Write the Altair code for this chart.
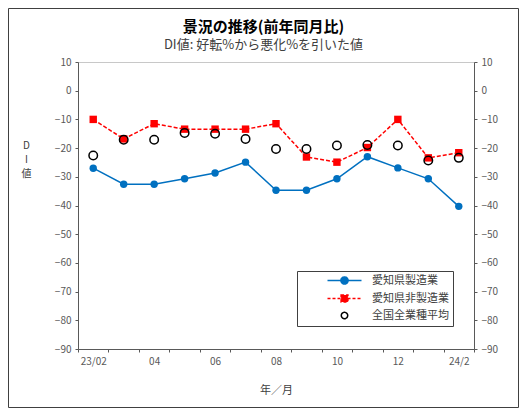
import altair as alt
import pandas as pd

# ---- data ----
months = ["23/02", "23/03", "23/04", "23/05", "23/06", "23/07", "23/08",
          "23/09", "23/10", "23/11", "23/12", "24/01", "24/02"]
tick_labels = {"23/02": "23/02", "23/04": "04", "23/06": "06", "23/08": "08",
               "23/10": "10", "23/12": "12", "24/02": "24/2"}
series_names = ["愛知県製造業", "愛知県非製造業", "全国全業種平均"]
mfg = [-27, -32.6, -32.6, -30.7, -28.7, -24.9, -34.7, -34.7, -30.7, -23, -26.9, -30.7, -40.3]
nonmfg = [-10, -16.8, -11.5, -13.4, -13.4, -13.4, -11.5, -23.1, -24.9, -19.8, -10, -23.4, -21.6]
national = [-22.6, -17.1, -17.1, -14.7, -15, -16.8, -20.3, -20.3, -19.1, -18.9, -19.1, -24.3, -23.4]
y_ticks = list(range(-90, 11, 10))

rows = []
for name, vals in zip(series_names, [mfg, nonmfg, national]):
    for m, v in zip(months, vals):
        rows.append({"month": m, "series": name, "value": v})
df = pd.DataFrame(rows)

FONT = "Noto Sans CJK JP"
BLUE = "#0070C0"
RED = "#FF0000"
W, H = 396, 287
PAD = {"left": 70, "top": 54, "right": 45, "bottom": 59}

label_expr = " : ".join(
    [f"datum.value == '{k}' ? '{v}'" for k, v in tick_labels.items()]) + " : ''"

x_enc = alt.X("month:N", sort=months,
              scale=alt.Scale(domain=months, paddingInner=0, paddingOuter=0),
              axis=alt.Axis(title="年／月", labelExpr=label_expr, labelAngle=0,
                            tickBand="extent", tickSize=3, labelPadding=4,
                            titlePadding=18, titleFontWeight="normal",
                            titleFontSize=11, titleColor="#404040"))
y_scale = alt.Scale(domain=[-90, 10], nice=False, zero=False)
y_left = alt.Y("value:Q", scale=y_scale,
               axis=alt.Axis(orient="left", values=y_ticks, grid=False,
                             title=["D", "I", "値"], titleAngle=0,
                             titleX=-52, titleY=78, titleAlign="center",
                             titleBaseline="top", titleFontWeight="normal",
                             titleFontSize=10, titleColor="#404040",
                             titleLineHeight=14, tickSize=3, labelPadding=4))
y_right = alt.Y("value:Q", scale=y_scale,
                axis=alt.Axis(orient="right", values=y_ticks, grid=False,
                              title=None, tickSize=3, labelPadding=4))
y_plain = alt.Y("value:Q", scale=y_scale, axis=None)

base = alt.Chart(df)

line_mfg = base.transform_filter(alt.datum.series == series_names[0]).mark_line(
    strokeWidth=1.5, color=BLUE
).encode(x=x_enc, y=y_left)

line_non = base.transform_filter(alt.datum.series == series_names[1]).mark_line(
    strokeWidth=1.5, color=RED, strokeDash=[4, 2]
).encode(x=x_enc, y=y_plain)

pts_mfg = base.transform_filter(alt.datum.series == series_names[0]).mark_point(
    shape="circle", filled=True, size=55, color=BLUE, opacity=1
).encode(x=x_enc, y=y_right)

pts_non = base.transform_filter(alt.datum.series == series_names[1]).mark_point(
    shape="square", filled=True, size=55, color=RED, opacity=1
).encode(x=x_enc, y=y_plain)

pts_nat = base.transform_filter(alt.datum.series == series_names[2]).mark_point(
    shape="circle", filled=False, size=72, color="black", strokeWidth=1.5, opacity=1
).encode(x=x_enc, y=y_plain)

# legend-only layer (no data drawn; legend built from explicit domain)
sym_paths = [
    "M-4.25,0L4.25,0M-0.9,0A0.9,0.9,0,1,0,0.9,0A0.9,0.9,0,1,0,-0.9,0Z",
    "M-4.25,0L4.25,0M-0.85,-0.85L0.85,-0.85L0.85,0.85L-0.85,0.85Z",
    "M-0.8,0A0.8,0.8,0,1,0,0.8,0A0.8,0.8,0,1,0,-0.8,0Z",
]
LEG_EXPR = "datum.label + '        '"
leg = alt.Legend(title=None, labelExpr=LEG_EXPR)
legend_layer = base.transform_filter(alt.datum.value > 1000).mark_point(
    size=64, strokeWidth=1.5, opacity=1, filled=True
).encode(
    shape=alt.Shape("series:N", scale=alt.Scale(domain=series_names, range=sym_paths), legend=leg),
    fill=alt.Fill("series:N", scale=alt.Scale(domain=series_names, range=[BLUE, RED, "#ffffff"]), legend=leg),
    stroke=alt.Stroke("series:N", scale=alt.Scale(domain=series_names, range=[BLUE, RED, "#000000"]), legend=leg),
    strokeDash=alt.StrokeDash("series:N", scale=alt.Scale(domain=series_names, range=[[1, 0], [3, 2], [1, 0]]), legend=leg),
)

frame = alt.Chart(df).transform_filter(alt.datum.month == months[0]).transform_filter(
    alt.datum.series == series_names[0]
).mark_rect(fill=None, stroke="#404040", strokeWidth=1, clip=False).encode(
    x=alt.value(-69.5), x2=alt.value(W + PAD["right"] - 0.5),
    y=alt.value(-53.5), y2=alt.value(H + PAD["bottom"] - 0.5),
)

chart = alt.layer(frame, line_mfg, line_non, pts_mfg, pts_non, pts_nat, legend_layer).resolve_scale(
    y="shared"
).resolve_axis(y="independent").properties(
    width=W, height=H,
    padding=PAD,
    autosize=alt.AutoSizeParams(type="none"),
    title=alt.TitleParams(
        text="景況の推移(前年同月比)",
        subtitle="DI値: 好転%から悪化%を引いた値",
        anchor="middle", frame="bounds",
        font=FONT, fontSize=15, fontWeight="bold", color="#000000",
        subtitleFont=FONT, subtitleFontSize=13, subtitleColor="#404040",
        subtitlePadding=4, offset=-44,
    ),
).configure(font=FONT).configure_view(
    stroke="#c8c8c8", strokeWidth=1
).configure_axis(
    labelFont=FONT, titleFont=FONT, labelFontSize=10, labelColor="#595959",
    domainColor="#595959", tickColor="#595959", domainWidth=1,
).configure_legend(
    orient="none", legendX=219, legendY=209, padding=4,
    strokeColor="#404040", fillColor="white",
    labelFont=FONT, labelFontSize=11, labelColor="#404040",
    symbolSize=64, symbolStrokeWidth=1.5, symbolOffset=38,
    labelOffset=22, rowPadding=4, symbolOpacity=1,
)

chart.save("out.html", embed_options={"renderer": "svg", "actions": False})
